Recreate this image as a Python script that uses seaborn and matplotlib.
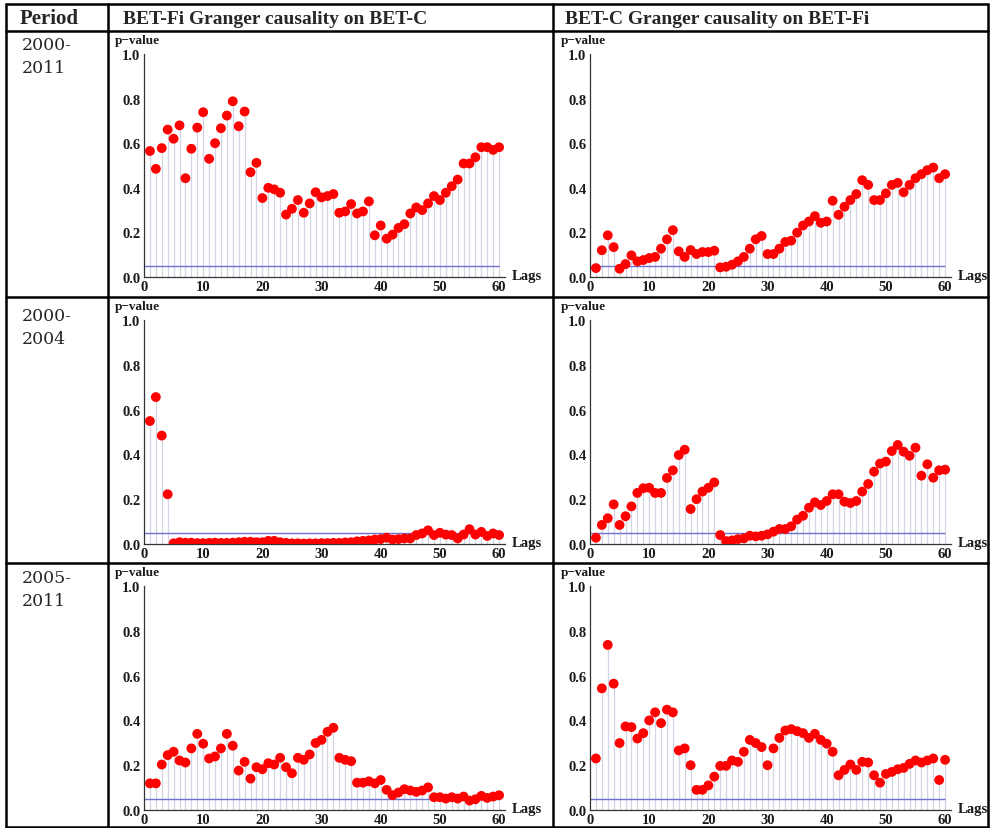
import matplotlib
matplotlib.use("Agg")
import matplotlib.pyplot as plt
import numpy as np
import seaborn as sns
from matplotlib.lines import Line2D
from matplotlib.ticker import MultipleLocator, FormatStrFormatter

lags = np.arange(1, 61)

periods = ["2000-\n2011", "2000-\n2004", "2005-\n2011"]
headers = ["Period", "BET-Fi Granger causality on BET-C", "BET-C Granger causality on BET-Fi"]

# 2000-2011
fi_on_c_0011 = [0.565, 0.485, 0.578, 0.661, 0.62, 0.68, 0.443, 0.575, 0.67, 0.739,
                0.53, 0.60, 0.667, 0.724, 0.788, 0.676, 0.742, 0.47, 0.512, 0.354,
                0.40, 0.393, 0.378, 0.28, 0.306, 0.345, 0.288, 0.33, 0.38, 0.357,
                0.363, 0.372, 0.288, 0.294, 0.327, 0.285, 0.294, 0.339, 0.187, 0.231,
                0.172, 0.19, 0.22, 0.237, 0.285, 0.312, 0.30, 0.33, 0.363, 0.345,
                0.378, 0.407, 0.437, 0.509, 0.509, 0.537, 0.582, 0.582, 0.57, 0.582]
c_on_fi_0011 = [0.04, 0.12, 0.187, 0.134, 0.037, 0.058, 0.097, 0.07, 0.076, 0.085,
                0.09, 0.127, 0.169, 0.21, 0.115, 0.09, 0.121, 0.103, 0.112, 0.112,
                0.118, 0.043, 0.046, 0.055, 0.07, 0.09, 0.127, 0.169, 0.184, 0.103,
                0.103, 0.127, 0.157, 0.163, 0.199, 0.231, 0.249, 0.273, 0.243, 0.249,
                0.342, 0.279, 0.315, 0.345, 0.372, 0.434, 0.413, 0.345, 0.345, 0.375,
                0.413, 0.422, 0.38, 0.413, 0.443, 0.461, 0.479, 0.491, 0.443, 0.461]

# 2000-2004
fi_on_c_0004 = [0.549, 0.656, 0.484, 0.222, 0.003, 0.008, 0.006, 0.006, 0.004, 0.004,
                0.005, 0.006, 0.005, 0.005, 0.006, 0.008, 0.01, 0.01, 0.008, 0.008,
                0.014, 0.014, 0.008, 0.005, 0.003, 0.003, 0.002, 0.003, 0.003, 0.004,
                0.004, 0.005, 0.005, 0.007, 0.008, 0.012, 0.014, 0.016, 0.02, 0.022,
                0.028, 0.02, 0.022, 0.025, 0.025, 0.04, 0.047, 0.061, 0.04, 0.05,
                0.042, 0.04, 0.025, 0.042, 0.066, 0.042, 0.054, 0.036, 0.047, 0.04]
c_on_fi_0004 = [0.028, 0.085, 0.115, 0.177, 0.085, 0.124, 0.168, 0.228, 0.249, 0.251,
                0.228, 0.228, 0.295, 0.329, 0.397, 0.421, 0.156, 0.20, 0.234, 0.251,
                0.275, 0.04, 0.013, 0.016, 0.022, 0.025, 0.037, 0.034, 0.037, 0.043,
                0.055, 0.067, 0.067, 0.079, 0.109, 0.126, 0.162, 0.186, 0.174, 0.192,
                0.222, 0.222, 0.189, 0.183, 0.192, 0.234, 0.268, 0.323, 0.359, 0.368,
                0.415, 0.442, 0.412, 0.394, 0.43, 0.305, 0.356, 0.296, 0.329, 0.332]

# 2005-2011
fi_on_c_0511 = [0.119, 0.119, 0.203, 0.245, 0.26, 0.221, 0.212, 0.275, 0.34, 0.296,
                0.23, 0.239, 0.275, 0.34, 0.287, 0.176, 0.215, 0.14, 0.191, 0.182,
                0.209, 0.203, 0.233, 0.191, 0.164, 0.233, 0.224, 0.248, 0.299, 0.313,
                0.349, 0.367, 0.233, 0.224, 0.218, 0.122, 0.122, 0.128, 0.119, 0.134,
                0.09, 0.066, 0.078, 0.093, 0.087, 0.081, 0.087, 0.101, 0.057, 0.057,
                0.051, 0.057, 0.051, 0.06, 0.042, 0.048, 0.063, 0.054, 0.06, 0.066]
c_on_fi_0511 = [0.23, 0.543, 0.737, 0.564, 0.299, 0.373, 0.37, 0.319, 0.343, 0.40,
                0.436, 0.388, 0.448, 0.436, 0.266, 0.275, 0.20, 0.09, 0.09, 0.11,
                0.149, 0.197, 0.197, 0.221, 0.215, 0.26, 0.313, 0.299, 0.281, 0.20,
                0.275, 0.322, 0.355, 0.361, 0.352, 0.343, 0.322, 0.34, 0.313, 0.296,
                0.26, 0.155, 0.179, 0.203, 0.179, 0.215, 0.212, 0.155, 0.122, 0.161,
                0.17, 0.182, 0.188, 0.206, 0.221, 0.212, 0.221, 0.23, 0.134, 0.224]

threshold = 0.05

panels = [[fi_on_c_0011, c_on_fi_0011],
          [fi_on_c_0004, c_on_fi_0004],
          [fi_on_c_0511, c_on_fi_0511]]

sns.set_style("white")
plt.rcParams["font.family"] = ["Liberation Serif", "DejaVu Serif"]

W, H = 990, 829
fig = plt.figure(figsize = (W / 100, H / 100), dpi = 100)

# pixel layout of the table
col_x = [6, 108, 553, 988]
row_y = [5, 32, 298, 564, 828]
row_axes = [(55, 278), (321, 545), (587, 811)]
col_axes = [144, 590]
ax_w = 361

tick_col = "#1a1a1a"

for r, (top, bot) in enumerate(row_axes):
    for c, x0 in enumerate(col_axes):
        ax = fig.add_axes([x0 / W, 1 - bot / H, ax_w / W, (bot - top) / H])
        vals = panels[r][c]
        ax.vlines(lags, 0, vals, color = "#d3d4e4", linewidth = 0.9, zorder = 1)
        ax.hlines(threshold, 0, 60, color = "#7070d0", linewidth = 1.0, zorder = 2)
        sns.scatterplot(x = lags, y = vals, color = "#ff0000", s = 50, edgecolor = "none", ax = ax, zorder = 3, legend = False)
        ax.set_xlim(0, 61)
        ax.set_ylim(0, 1.0)
        ax.set_facecolor("white")
        for s in ["top", "right"]:
            ax.spines[s].set_visible(False)
        for s in ["left", "bottom"]:
            ax.spines[s].set_color("#333333")
            ax.spines[s].set_linewidth(0.9)
        ax.xaxis.set_major_locator(MultipleLocator(10))
        ax.xaxis.set_minor_locator(MultipleLocator(2))
        ax.yaxis.set_major_locator(MultipleLocator(0.2))
        ax.yaxis.set_minor_locator(MultipleLocator(0.05))
        ax.yaxis.set_major_formatter(FormatStrFormatter("%.1f"))
        ax.tick_params(which = "major", direction = "in", length = 5, width = 0.8, color = "#333333",
                       labelsize = 10.5, labelcolor = tick_col, pad = 2.5)
        ax.tick_params(which = "minor", direction = "in", length = 2.5, width = 0.7, color = "#333333")
        for lab in ax.get_xticklabels() + ax.get_yticklabels():
            lab.set_fontweight("bold")
        ax.set_xlabel("")
        ax.set_ylabel("")
        ax.annotate("p\u2212value", xy = (0, 1), xycoords = "axes fraction", xytext = (-21, 6),
                    textcoords = "offset points", ha = "left", va = "bottom", fontsize = 9.5,
                    fontweight = "bold", color = tick_col)
        ax.annotate("Lags", xy = (1, 0), xycoords = "axes fraction", xytext = (5, 1),
                    textcoords = "offset points", ha = "left", va = "center", fontsize = 10.5,
                    fontweight = "bold", color = tick_col)

# table grid
for x in col_x:
    fig.add_artist(Line2D([x / W, x / W], [1 - row_y[0] / H, 1 - row_y[-1] / H], color = "black", linewidth = 1.8))
for y in row_y:
    fig.add_artist(Line2D([col_x[0] / W, col_x[-1] / W], [1 - y / H, 1 - y / H], color = "black", linewidth = 1.8))

# header and period labels
head_x = [20, 123, 565]
head_size = [15, 14, 14]
for hx, fs, txt in zip(head_x, head_size, headers):
    fig.text(hx / W, 1 - 19 / H, txt, ha = "left", va = "center", fontsize = fs, fontweight = "bold")
label_top = [37, 308, 570]
for ly, txt in zip(label_top, periods):
    fig.text(22 / W, 1 - ly / H, txt, ha = "left", va = "top", fontsize = 12.5, family = ["DejaVu Serif"],
             linespacing = 1.45)

fig.savefig("out.png", dpi = 100)
